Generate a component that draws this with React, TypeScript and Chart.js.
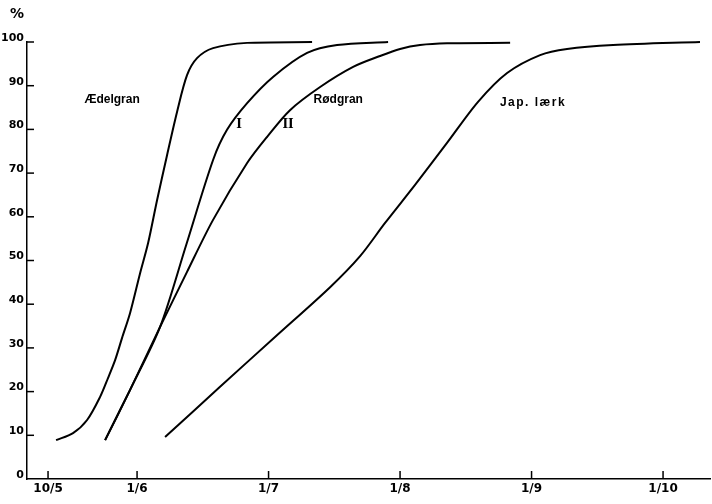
import React, { useEffect, useRef } from "react";
import { Chart, registerables } from "chart.js";

Chart.register(...registerables);

// x values are in "month" units: 6 = 1 June, 7 = 1 July, ...
const xTickValues = [5.323, 6, 7, 8, 9, 10];
const xTickLabels = ["10/5", "1/6", "1/7", "1/8", "1/9", "1/10"];
const yTickValues = [0, 10, 20, 30, 40, 50, 60, 70, 80, 90, 100];

const aedelgranX = [5.384, 5.513, 5.62, 5.719, 5.779, 5.833, 5.886, 5.947, 6.023, 6.084, 6.152, 6.228, 6.304, 6.38, 6.456, 6.578, 6.837, 7.331];
const aedelgranY = [8.9, 10.5, 13.5, 18.8, 23.1, 27.2, 32.3, 38.0, 47.1, 54.0, 63.8, 74.1, 84.0, 92.4, 96.3, 98.6, 99.8, 100];

const rodgran1X = [5.757, 5.947, 6.175, 6.373, 6.578, 6.684, 6.837, 7.034, 7.293, 7.521, 7.909];
const rodgran1Y = [8.9, 20.4, 34.8, 53.5, 73.0, 79.9, 86.0, 92.0, 97.5, 99.3, 100];

const rodgran2X = [5.757, 5.947, 6.175, 6.38, 6.578, 6.837, 6.989, 7.163, 7.392, 7.643, 7.848, 8.0, 8.152, 8.357, 8.837];
const rodgran2Y = [8.9, 20.4, 34.8, 47.4, 59.3, 72.3, 78.3, 84.4, 89.7, 94.3, 96.8, 98.4, 99.3, 99.7, 99.8];

const larkX = [6.213, 6.631, 7.049, 7.468, 7.696, 7.886, 8.114, 8.357, 8.593, 8.814, 9.065, 9.27, 9.62, 10.281];
const larkY = [9.6, 21.1, 32.5, 43.9, 51.0, 58.6, 67.3, 76.9, 86.3, 92.9, 97.0, 98.4, 99.3, 100];

const curveLabels = ["Ædelgran", "I", "II", "Rødgran", "Jap. lærk"];
const curveLabelX = [5.81, 6.776, 7.148, 7.53, 9.011];
const curveLabelY = [86.7, 81, 81, 86.7, 86];

const toPts = (xs: number[], ys: number[]) => xs.map((x, i) => ({ x, y: ys[i] }));

const FONT = '"DejaVu Sans", sans-serif';
const LFONT = '"Liberation Sans", sans-serif';
const SFONT = '"DejaVu Serif", serif';

const annotPlugin = {
  id: "annot",
  afterDraw(chart: any) {
    const { ctx, chartArea } = chart;
    const xs = chart.scales.x;
    const ys = chart.scales.y;
    ctx.save();
    ctx.strokeStyle = "#000";
    ctx.lineWidth = 1.5;
    // inward tick marks
    yTickValues.forEach((v) => {
      if (v === 0) return;
      const py = ys.getPixelForValue(v);
      ctx.beginPath();
      ctx.moveTo(chartArea.left, py);
      ctx.lineTo(chartArea.left + 7, py);
      ctx.stroke();
    });
    xTickValues.forEach((v) => {
      const px = xs.getPixelForValue(v);
      ctx.beginPath();
      ctx.moveTo(px, chartArea.bottom);
      ctx.lineTo(px, chartArea.bottom - 8);
      ctx.stroke();
    });
    // curve labels
    ctx.fillStyle = "#000";
    ctx.textAlign = "center";
    ctx.textBaseline = "middle";
    curveLabels.forEach((t, i) => {
      if (t === "I" || t === "II") {
        ctx.font = `bold 12px ${SFONT}`;
        (ctx as any).letterSpacing = "0px";
      } else if (t === "Jap. lærk") {
        ctx.font = `bold 12px ${LFONT}`;
        (ctx as any).letterSpacing = "1.5px";
      } else {
        ctx.font = `bold 12px ${LFONT}`;
        (ctx as any).letterSpacing = "0px";
      }
      ctx.fillText(t, xs.getPixelForValue(curveLabelX[i]), ys.getPixelForValue(curveLabelY[i]));
    });
    (ctx as any).letterSpacing = "0px";
    // percent sign
    ctx.font = `bold 14px ${FONT}`;
    ctx.fillText("%", chartArea.left - 10, ys.getPixelForValue(100) - 28);
    ctx.restore();
  },
};

export default function App() {
  const ref = useRef<HTMLCanvasElement | null>(null);
  useEffect(() => {
    if (!ref.current) return;
    const ds = (label: string, xs: number[], ys: number[]) => ({
      label,
      data: toPts(xs, ys),
      borderColor: "#000",
      borderWidth: 2,
      pointRadius: 0,
      fill: false,
      tension: 0.3,
      clip: false as any,
    });
    const chart = new Chart(ref.current, {
      type: "line",
      data: {
        datasets: [
          ds("Ædelgran", aedelgranX, aedelgranY),
          ds("Rødgran I", rodgran1X, rodgran1Y),
          ds("Rødgran II", rodgran2X, rodgran2Y),
          ds("Jap. lærk", larkX, larkY),
        ],
      },
      options: {
        animation: false,
        responsive: false,
        devicePixelRatio: 1,
        layout: { padding: { top: 42, right: 2, left: 0, bottom: 0 } },
        plugins: { legend: { display: false }, tooltip: { enabled: false } },
        scales: {
          x: {
            type: "linear",
            min: 5.163,
            max: 10.357,
            afterBuildTicks: (axis: any) => {
              axis.ticks = xTickValues.map((v) => ({ value: v }));
            },
            afterFit: (axis: any) => {
              axis.height = 25;
            },
            ticks: {
              autoSkip: false,
              maxRotation: 0,
              padding: 3,
              color: "#000",
              font: { family: FONT, size: 12, weight: "bold" },
              callback: (_v: any, i: number) => xTickLabels[i],
            },
            grid: { drawOnChartArea: false, drawTicks: false },
            border: { display: true, color: "#000", width: 1.5 },
          },
          y: {
            type: "linear",
            min: 0,
            max: 100,
            afterBuildTicks: (axis: any) => {
              axis.ticks = yTickValues.map((v) => ({ value: v }));
            },
            afterFit: (axis: any) => {
              axis.width = 27;
            },
            ticks: {
              padding: 3,
              labelOffset: -4,
              color: "#000",
              font: { family: FONT, size: 11, weight: "bold" },
            },
            grid: { drawOnChartArea: false, drawTicks: false },
            border: { display: true, color: "#000", width: 1.5 },
          },
        },
      },
      plugins: [annotPlugin],
    });
    return () => chart.destroy();
  }, []);
  return (
    <div style={{ position: "absolute", left: 0, top: 0, width: 712, height: 504, background: "#fff" }}>
      <canvas ref={ref} width={712} height={504} />
    </div>
  );
}
